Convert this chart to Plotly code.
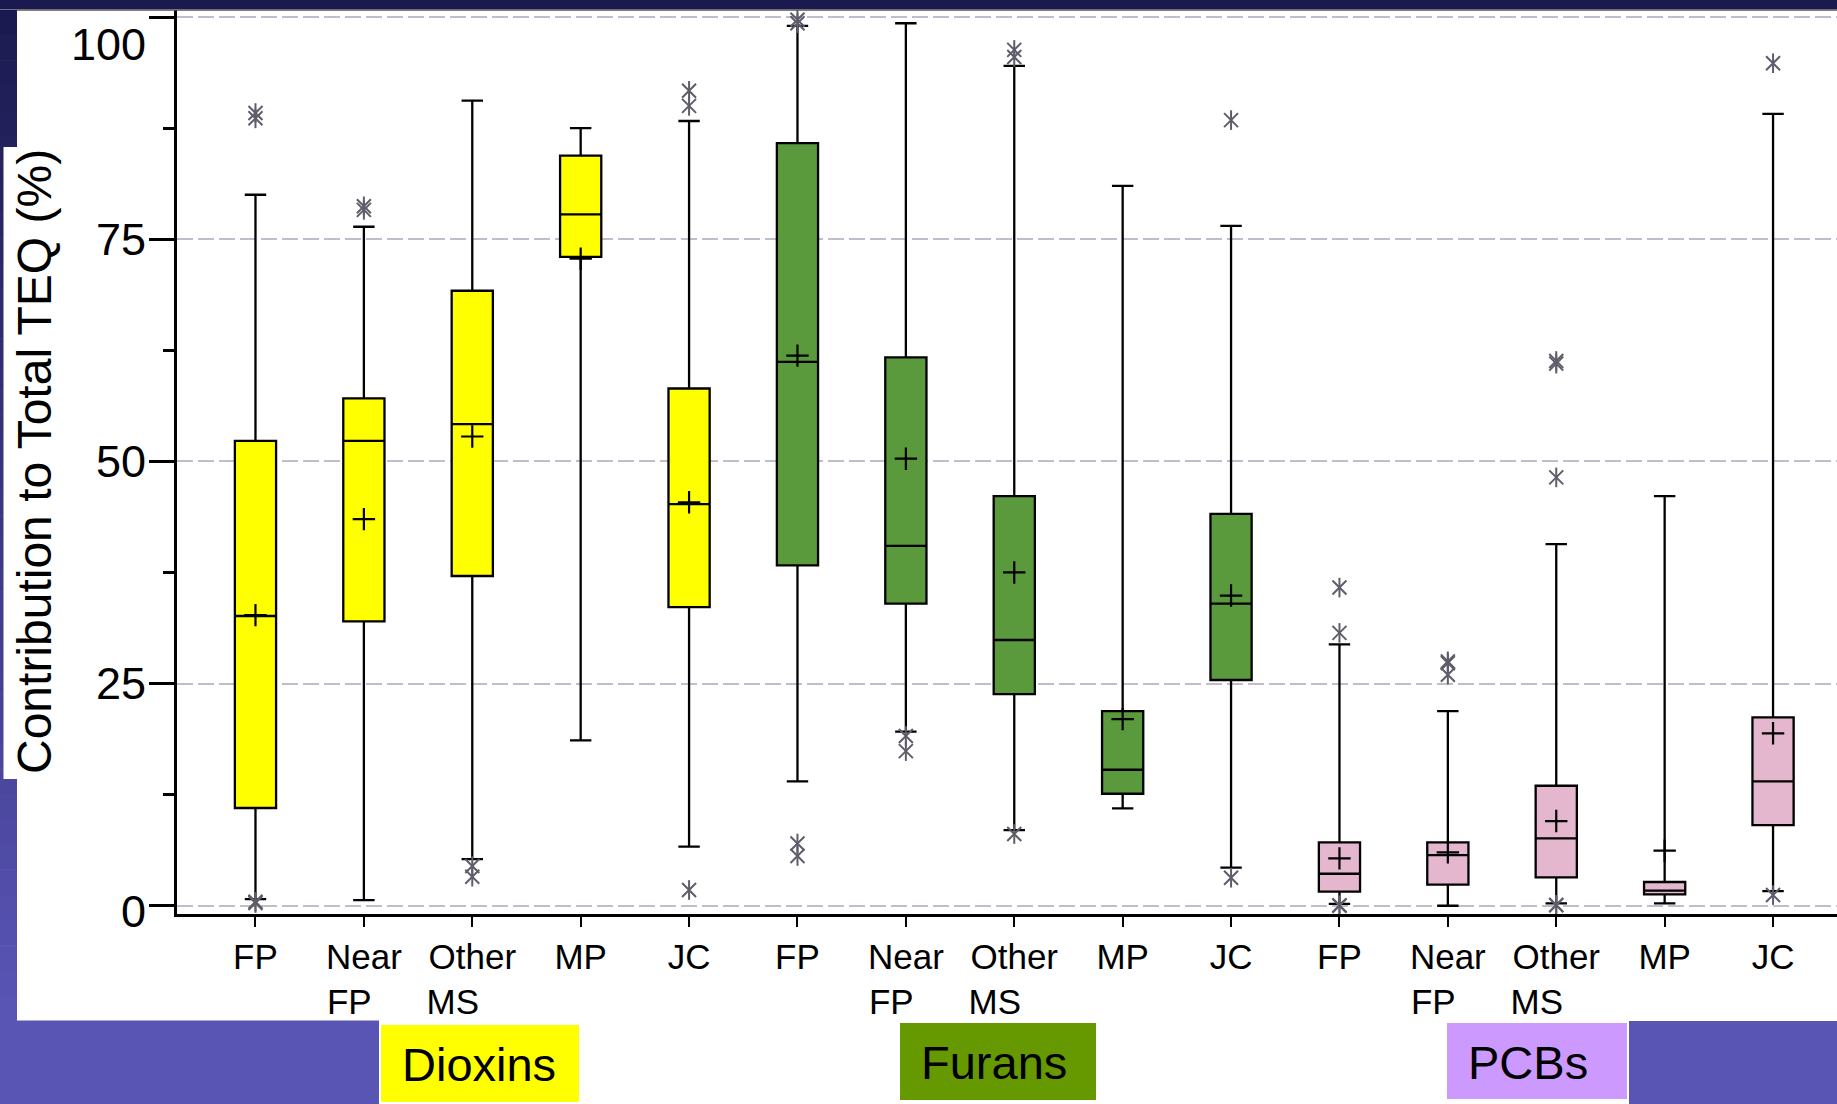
import plotly.graph_objects as go

# ---------------- data ----------------
categories = ["FP", "Near FP", "Other MS", "MP", "JC"]
tick_labels = ["FP", "Near<br>FP\u00a0\u00a0\u00a0", "Other<br>MS\u00a0\u00a0\u00a0\u00a0", "MP", "JC"]
groups = ["Dioxins", "Furans", "PCBs"]
y_ticks = [0, 25, 50, 75, 100]

dioxins_q1 = [11.0, 32.0, 37.1, 73.0, 33.6]
dioxins_median = [32.6, 52.3, 54.2, 77.8, 45.2]
dioxins_q3 = [52.3, 57.1, 69.2, 84.4, 58.2]
dioxins_low = [0.75, 0.64, 5.25, 18.6, 6.64]
dioxins_high = [80.0, 76.4, 90.6, 87.5, 88.3]
dioxins_mean = [32.7, 43.5, 52.8, 72.8, 45.4]
dioxins_outliers = [[89.2, 88.6, 0.45, 0.3], [78.3, 78.7], [4.47, 3.27], [], [91.7, 90.0, 1.77]]

furans_q1 = [38.3, 34.0, 23.8, 12.6, 25.4]
furans_median = [61.2, 40.5, 29.9, 15.3, 34.0]
furans_q3 = [85.8, 61.7, 46.1, 21.9, 44.1]
furans_low = [14.0, 19.6, 8.5, 10.96, 4.28]
furans_high = [99.0, 99.3, 94.5, 81.0, 76.5]
furans_mean = [61.9, 50.3, 37.5, 21.0, 34.9]
furans_outliers = [[99.3, 99.7, 7.0, 5.6], [19.1, 17.4], [96.3, 95.5, 8.07], [], [88.4, 3.15]]

pcbs_q1 = [1.58, 2.37, 3.2, 1.28, 9.08]
pcbs_median = [3.6, 5.7, 7.58, 1.69, 14.0]
pcbs_q3 = [7.13, 7.13, 13.5, 2.67, 21.2]
pcbs_low = [0.2, 0.0, 0.27, 0.27, 1.65]
pcbs_high = [29.4, 21.9, 40.7, 46.1, 89.1]
pcbs_mean = [5.33, 6.0, 9.53, 6.19, 19.4]
pcbs_outliers = [[35.8, 30.7, 0.05, 0.0], [27.5, 27.3, 26.0], [61.0, 61.3, 48.2, 0.1, 0.05], [], [94.8, 1.2]]

# ---------------- styles ----------------
FONT = "Liberation Sans, Arial, sans-serif"
box_fill = {"Dioxins": "#FFFF00", "Furans": "#5A9A3C", "PCBs": "#E5B7CF"}
label_fill = {"Dioxins": "#FFFF00", "Furans": "#669900", "PCBs": "#CC99FF"}
OUTLIER_COLOR = "#5E5D6A"
NAVY = (27, 26, 80)
PURPLE = (89, 85, 181)

W, H = 1837, 1104
PL, PR, PT, PB = 177, 1837, 10, 914


def px(x):
    return (x - PL) / (PR - PL)


def py(y):
    return (PB - y) / (PB - PT)


group_data = {
    "Dioxins": (dioxins_q1, dioxins_median, dioxins_q3, dioxins_low, dioxins_high, dioxins_mean, dioxins_outliers),
    "Furans": (furans_q1, furans_median, furans_q3, furans_low, furans_high, furans_mean, furans_outliers),
    "PCBs": (pcbs_q1, pcbs_median, pcbs_q3, pcbs_low, pcbs_high, pcbs_mean, pcbs_outliers),
}

fig = go.Figure()

for g, name in enumerate(groups):
    q1, med, q3, lo, hi, mean, outl = group_data[name]
    xs = [g * len(categories) + i for i in range(len(categories))]
    fig.add_trace(go.Box(
        x=xs, q1=q1, median=med, q3=q3, lowerfence=lo, upperfence=hi,
        fillcolor=box_fill[name], line=dict(color="black", width=2.3),
        width=0.38, whiskerwidth=0.52, boxpoints=False,
        showlegend=False, hoverinfo="skip", name=name))

for g, name in enumerate(groups):
    q1, med, q3, lo, hi, mean, outl = group_data[name]
    xs = [g * len(categories) + i for i in range(len(categories))]
    fig.add_trace(go.Scatter(
        x=xs, y=mean, mode="markers", showlegend=False, hoverinfo="skip",
        marker=dict(symbol="cross-thin-open", size=16, color="black",
                    line=dict(color="black", width=2.2))))
    ox, oy = [], []
    for x, vals in zip(xs, outl):
        for v in vals:
            ox.append(x)
            oy.append(v)
    # six-armed asterisk: a diagonal cross plus a vertical stroke
    fig.add_trace(go.Scatter(
        x=ox, y=oy, mode="markers", showlegend=False, hoverinfo="skip",
        cliponaxis=False,
        marker=dict(symbol="x-thin-open", size=14, color=OUTLIER_COLOR,
                    line=dict(color=OUTLIER_COLOR, width=2))))
    fig.add_trace(go.Scatter(
        x=ox, y=oy, mode="markers", showlegend=False, hoverinfo="skip",
        cliponaxis=False,
        marker=dict(symbol="line-ns-open", size=14, color=OUTLIER_COLOR,
                    line=dict(color=OUTLIER_COLOR, width=2))))

# ---------------- background decoration ----------------
shapes = []
# left gradient strip
N = 40
y_top, y_bot = 9.5, 1021
for k in range(N):
    t = k / (N - 1)
    c = tuple(int(round(NAVY[j] + (PURPLE[j] - NAVY[j]) * t)) for j in range(3))
    ya = y_top + (y_bot - y_top) * k / N
    yb = y_top + (y_bot - y_top) * (k + 1) / N + 0.6
    shapes.append(dict(type="rect", xref="paper", yref="paper",
                       x0=px(0), x1=px(17), y0=py(ya), y1=py(yb),
                       fillcolor="rgb(%d,%d,%d)" % c, line=dict(width=0)))
# white notch behind y-axis title
shapes.append(dict(type="rect", xref="paper", yref="paper",
                   x0=px(3.5), x1=px(18), y0=py(147), y1=py(779),
                   fillcolor="white", line=dict(width=0)))
# top navy band
shapes.append(dict(type="rect", xref="paper", yref="paper",
                   x0=px(0), x1=px(W), y0=py(0), y1=py(9.3),
                   fillcolor="rgb(27,26,80)", line=dict(width=0)))
shapes.append(dict(type="line", xref="paper", yref="paper",
                   x0=px(17), x1=px(W), y0=py(10), y1=py(10),
                   line=dict(color="#555555", width=1.5)))
# bottom purple blocks
shapes.append(dict(type="rect", xref="paper", yref="paper",
                   x0=px(0), x1=px(379), y0=py(1020.5), y1=py(H),
                   fillcolor="rgb(89,85,181)", line=dict(width=0)))
shapes.append(dict(type="rect", xref="paper", yref="paper",
                   x0=px(1629), x1=px(W), y0=py(1021), y1=py(H),
                   fillcolor="rgb(89,85,181)", line=dict(width=0)))

# group label boxes
label_boxes = {"Dioxins": (381, 579, 1025, 1102),
               "Furans": (900, 1096, 1023, 1100),
               "PCBs": (1447, 1627, 1023, 1099)}
annotations = []
for name in groups:
    x0, x1, y0, y1 = label_boxes[name]
    shapes.append(dict(type="rect", xref="paper", yref="paper",
                       x0=px(x0), x1=px(x1), y0=py(y0), y1=py(y1),
                       fillcolor=label_fill[name], line=dict(width=0)))
    annotations.append(dict(xref="paper", yref="paper", x=px(x0 + 19), y=py((y0 + y1) / 2 + 1),
                            xanchor="left", yanchor="middle", showarrow=False,
                            text=name, font=dict(family=FONT, size=47, color="black")))

# y tick labels
y_label_shift = {0: -6, 25: 0, 50: 0, 75: 0, 100: -27}
for v in y_ticks:
    annotations.append(dict(xref="paper", yref="y", x=px(148), y=v, xanchor="right",
                            yanchor="middle", showarrow=False, text=str(v),
                            yshift=y_label_shift[v],
                            font=dict(family=FONT, size=45, color="black")))

# y axis title
annotations.append(dict(xref="paper", yref="paper", x=px(34), y=py(462),
                        xanchor="center", yanchor="middle", showarrow=False,
                        textangle=-90, text="Contribution to Total TEQ (%)",
                        font=dict(family=FONT, size=48, color="black")))

fig.update_layout(
    width=W, height=H,
    margin=dict(l=PL, r=W - PR, t=PT, b=H - PB, pad=0),
    paper_bgcolor="white", plot_bgcolor="white",
    boxmode="overlay",
    shapes=shapes, annotations=annotations,
    font=dict(family=FONT, color="black"),
    xaxis=dict(range=[-0.724, 14.59], tickmode="array",
               tickvals=list(range(len(groups) * len(categories))),
               ticktext=tick_labels * len(groups),
               tickfont=dict(family=FONT, size=35, color="black"),
               ticks="outside", ticklen=10, tickwidth=2, tickcolor="black",
               showline=True, linecolor="black", linewidth=2.5,
               showgrid=False, zeroline=False, tickangle=0),
    yaxis=dict(range=[-0.93, 100.79], tickmode="array", tickvals=y_ticks,
               showticklabels=False,
               ticks="outside", ticklen=25, tickwidth=3, tickcolor="black",
               showline=True, linecolor="black", linewidth=2.5,
               showgrid=True, gridcolor="#C4BCCC", gridwidth=2, griddash="16px,5px",
               zeroline=False,
               minor=dict(dtick=12.5, tick0=0, ticks="outside", ticklen=11,
                          tickwidth=3, tickcolor="black", showgrid=False)),
)

fig.write_html("out.html")
